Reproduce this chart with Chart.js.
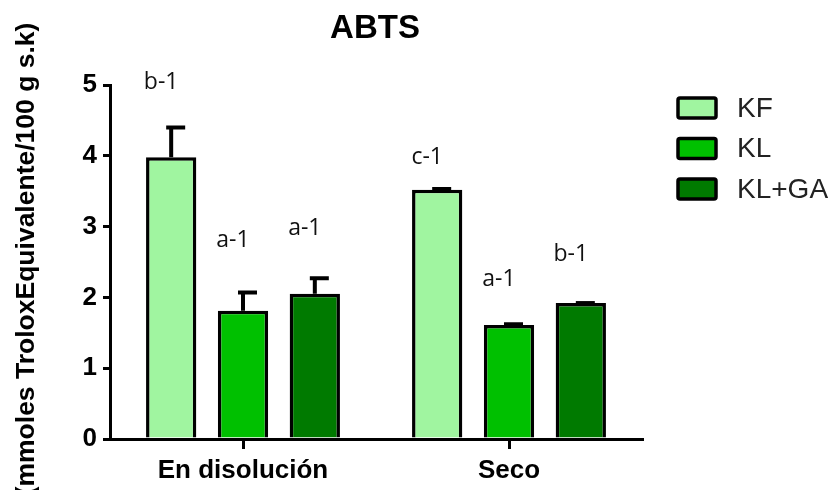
<!DOCTYPE html>
<html>
<head>
<meta charset="utf-8">
<script src="https://cdn.jsdelivr.net/npm/chart.js@4.4.1/dist/chart.umd.min.js"></script>
<style>
  html, body { margin: 0; padding: 0; background: #fff; }
  #wrap { width: 832px; height: 490px; position: relative; }
</style>
</head>
<body>
<div id="wrap"><canvas id="abtsChart"></canvas></div>
<script>
// Data
const groups = ["En disolución", "Seco"];
const seriesNames = ["KF", "KL", "KL+GA"];
const kfValues = [3.98, 3.52];
const klValues = [1.81, 1.61];
const klgaValues = [2.05, 1.92];
const kfErrors = [0.42, 0.01];
const klErrors = [0.26, 0.01];
const klgaErrors = [0.22, 0.0];
const kfLetters = ["b-1", "c-1"];
const klLetters = ["a-1", "a-1"];
const klgaLetters = ["a-1", "b-1"];
const kfLetterAt = [5.03, 3.97];
const klLetterAt = [2.8, 2.25];
const klgaLetterAt = [2.98, 2.6];
const yTicks = [0, 1, 2, 3, 4, 5];

const colors = ["#a0f5a0", "#00c000", "#007a00"];
const errors = [kfErrors, klErrors, klgaErrors];
const letters = [kfLetters, klLetters, klgaLetters];
const letterAt = [kfLetterAt, klLetterAt, klgaLetterAt];

const SANS = "'Liberation Sans', Arial, sans-serif";

// Error bars, letters, title, y title, legend
const extras = {
    id: "extras",
    afterDatasetsDraw(chart) {
        const ctx = chart.ctx;
        const y = chart.scales.y;
        ctx.save();
        chart.data.datasets.forEach((ds, i) => {
            const meta = chart.getDatasetMeta(i);
            meta.data.forEach((bar, j) => {
                const top = y.getPixelForValue(ds.data[j]);
                const errTop = y.getPixelForValue(ds.data[j] + errors[i][j]);
                ctx.strokeStyle = "#000";
                ctx.lineWidth = 4;
                ctx.beginPath();
                ctx.moveTo(bar.x, top);
                ctx.lineTo(bar.x, errTop);
                ctx.moveTo(bar.x - 5, errTop);
                ctx.lineTo(bar.x + 14, errTop);
                ctx.stroke();

                ctx.fillStyle = "#111";
                ctx.font = "23px 'Open Sans', sans-serif";
                ctx.textAlign = "center";
                ctx.textBaseline = "middle";
                ctx.fillText(letters[i][j], bar.x - 10, y.getPixelForValue(letterAt[i][j]));
            });
        });
        ctx.restore();
    },
    afterDraw(chart) {
        const ctx = chart.ctx;
        ctx.save();
        // title
        ctx.fillStyle = "#000";
        ctx.font = "bold 33px " + SANS;
        ctx.textAlign = "center";
        ctx.textBaseline = "middle";
        ctx.fillText("ABTS", 375, 29);

        // y title
        ctx.save();
        ctx.translate(27, 259);
        ctx.rotate(-Math.PI / 2);
        ctx.font = "bold 26.5px " + SANS;
        ctx.fillText("(mmoles TroloxEquivalente/100 g s.k)", 0, 0);
        ctx.restore();

        // legend
        seriesNames.forEach((name, i) => {
            const cy = 108 + i * 40.5;
            ctx.fillStyle = colors[i];
            ctx.strokeStyle = "#000";
            ctx.lineWidth = 3.5;
            ctx.beginPath();
            ctx.roundRect(678, cy - 10, 38, 20, 2);
            ctx.fill();
            ctx.stroke();
            ctx.fillStyle = "#222";
            ctx.font = "28px " + SANS;
            ctx.textAlign = "left";
            ctx.fillText(name, 737, cy + 1);
        });
        ctx.restore();
    }
};

new Chart(document.getElementById("abtsChart"), {
    type: "bar",
    data: {
        labels: groups,
        datasets: [
            { label: seriesNames[0], data: kfValues, backgroundColor: colors[0] },
            { label: seriesNames[1], data: klValues, backgroundColor: colors[1] },
            { label: seriesNames[2], data: klgaValues, backgroundColor: colors[2] }
        ].map(d => Object.assign(d, {
            borderColor: "#000",
            borderWidth: 3.5,
            barPercentage: 0.7,
            categoryPercentage: 0.81
        }))
    },
    options: {
        responsive: true,
        maintainAspectRatio: false,
        animation: false,
        layout: { padding: { left: 0, top: 85, right: 190, bottom: 0 } },
        plugins: {
            legend: { display: false },
            title: { display: false },
            tooltip: { enabled: false }
        },
        scales: {
            x: {
                grid: {
                    display: true, offset: false, drawOnChartArea: false,
                    drawTicks: true, tickLength: 10, lineWidth: 3, color: "#000"
                },
                border: { display: true, width: 3, color: "#000" },
                ticks: {
                    color: "#000", padding: 6,
                    font: { family: SANS, size: 26, weight: "bold" }
                },
                afterFit: s => { s.height = 51; }
            },
            y: {
                min: 0,
                max: 5,
                afterBuildTicks: s => { s.ticks = yTicks.map(v => ({ value: v })); },
                grid: {
                    display: true, drawOnChartArea: false,
                    drawTicks: true, tickLength: 7, lineWidth: 3, color: "#000"
                },
                border: { display: true, width: 3, color: "#000" },
                ticks: {
                    color: "#000", padding: 6,
                    font: { family: SANS, size: 26, weight: "bold" }
                },
                afterFit: s => { s.width = 110; }
            }
        }
    },
    plugins: [extras]
});
</script>
</body>
</html>
